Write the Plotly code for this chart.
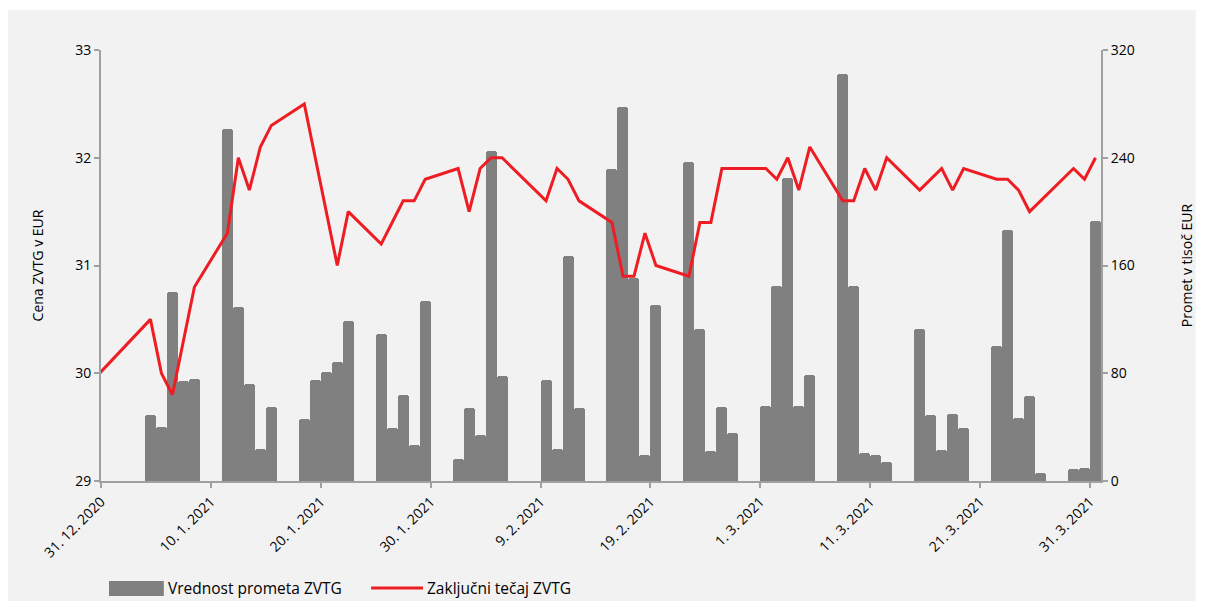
import plotly.graph_objects as go

# ---- data ----
bar_dates = [
    "2021-01-04", "2021-01-05", "2021-01-06", "2021-01-07", "2021-01-08",
    "2021-01-11", "2021-01-12", "2021-01-13", "2021-01-14", "2021-01-15",
    "2021-01-18", "2021-01-19", "2021-01-20", "2021-01-21", "2021-01-22",
    "2021-01-25", "2021-01-26", "2021-01-27", "2021-01-28", "2021-01-29",
    "2021-02-01", "2021-02-02", "2021-02-03", "2021-02-04", "2021-02-05",
    "2021-02-09", "2021-02-10", "2021-02-11", "2021-02-12",
    "2021-02-15", "2021-02-16", "2021-02-17", "2021-02-18", "2021-02-19",
    "2021-02-22", "2021-02-23", "2021-02-24", "2021-02-25", "2021-02-26",
    "2021-03-01", "2021-03-02", "2021-03-03", "2021-03-04", "2021-03-05",
    "2021-03-08", "2021-03-09", "2021-03-10", "2021-03-11", "2021-03-12",
    "2021-03-15", "2021-03-16", "2021-03-17", "2021-03-18", "2021-03-19",
    "2021-03-22", "2021-03-23", "2021-03-24", "2021-03-25", "2021-03-26",
    "2021-03-29", "2021-03-30", "2021-03-31",
]
turnover = [
    49, 40, 140, 74, 76,
    261, 129, 72, 24, 55,
    46, 75, 81, 88, 119,
    109, 39, 64, 27, 134,
    16, 54, 34, 245, 78,
    75, 24, 167, 54,
    232, 278, 151, 19, 131,
    237, 113, 22, 55, 36,
    56, 145, 225, 56, 79,
    302, 145, 21, 19, 14,
    113, 49, 23, 50, 39,
    100, 186, 47, 63, 6,
    9, 10, 193,
]

price_dates = [
    "2020-12-30", "2021-01-04", "2021-01-05", "2021-01-06", "2021-01-08",
    "2021-01-11", "2021-01-12", "2021-01-13", "2021-01-14", "2021-01-15",
    "2021-01-18", "2021-01-21", "2021-01-22", "2021-01-25", "2021-01-27",
    "2021-01-28", "2021-01-29", "2021-02-01", "2021-02-02", "2021-02-03",
    "2021-02-04", "2021-02-05", "2021-02-09", "2021-02-10", "2021-02-11",
    "2021-02-12", "2021-02-15", "2021-02-16", "2021-02-17", "2021-02-18",
    "2021-02-19", "2021-02-22", "2021-02-23", "2021-02-24", "2021-02-25",
    "2021-03-01", "2021-03-02", "2021-03-03", "2021-03-04", "2021-03-05",
    "2021-03-08", "2021-03-09", "2021-03-10", "2021-03-11", "2021-03-12",
    "2021-03-15", "2021-03-17", "2021-03-18", "2021-03-19", "2021-03-22",
    "2021-03-23", "2021-03-24", "2021-03-25", "2021-03-29", "2021-03-30",
    "2021-03-31",
]
price = [
    29.96, 30.50, 30.00, 29.80, 30.80,
    31.30, 32.00, 31.70, 32.10, 32.30,
    32.50, 31.00, 31.50, 31.20, 31.60,
    31.60, 31.80, 31.90, 31.50, 31.90,
    32.00, 32.00, 31.60, 31.90, 31.80,
    31.60, 31.40, 30.90, 30.90, 31.30,
    31.00, 30.90, 31.40, 31.40, 31.90,
    31.90, 31.80, 32.00, 31.70, 32.10,
    31.60, 31.60, 31.90, 31.70, 32.00,
    31.70, 31.90, 31.70, 31.90, 31.80,
    31.80, 31.70, 31.50, 31.90, 31.80,
    32.00,
]

bar_name = "Vrednost prometa ZVTG"
line_name = "Zaključni tečaj ZVTG"
left_title = "Cena ZVTG v EUR"
right_title = "Promet v tisoč EUR"
x_range = ["2020-12-31", "2021-04-01"]
left_range = [29, 33]
right_range = [0, 320]

DAY = 86400000
FONT = "Open Sans"
BAR_COLOR = "#808080"
LINE_COLOR = "#ee1d23"
AXIS_COLOR = "#a0a0a0"

fig = go.Figure()
fig.add_trace(go.Bar(
    x=bar_dates, y=turnover, name=bar_name,
    xperiod=DAY, xperiodalignment="middle", width=DAY,
    marker=dict(color=BAR_COLOR, line=dict(width=0), cornerradius=3),
    yaxis="y", showlegend=False,
))
fig.add_trace(go.Scatter(
    x=price_dates, y=price, name=line_name, mode="lines",
    xperiod=DAY, xperiodalignment="middle",
    line=dict(color=LINE_COLOR, width=3),
    yaxis="y2", showlegend=False,
))

# page has an 8px body margin, so the figure starts at screen (8, 8)
OFF = 8
W, H = 1205 - OFF, 601 - OFF
L, R, T, B = 101 - OFF, 101, 50 - OFF, 120
pw, ph = W - L - R, H - T - B


def px(x):  # screen px -> paper
    return (x - OFF - L) / pw


def py(y):
    return (H - B - (y - OFF)) / ph


shapes = [
    dict(type="rect", xref="paper", yref="paper", x0=px(1199), x1=px(1230),
         y0=py(640), y1=py(-20), fillcolor="white", line=dict(width=0), layer="below"),
    dict(type="rect", xref="paper", yref="paper", x0=px(-20), x1=px(1230),
         y0=py(10), y1=py(-20), fillcolor="white", line=dict(width=0), layer="below"),
    # legend swatches
    dict(type="rect", xref="paper", yref="paper", x0=px(109), x1=px(164),
         y0=py(596), y1=py(581), fillcolor=BAR_COLOR, line=dict(width=0)),
    dict(type="line", xref="paper", yref="paper", x0=px(372), x1=px(424),
         y0=py(588), y1=py(588), line=dict(color=LINE_COLOR, width=3)),
]
annotations = [
    dict(text=bar_name, xref="paper", yref="paper", x=px(166), y=py(588),
         xanchor="left", yanchor="middle", showarrow=False,
         font=dict(family=FONT, size=15.5, color="#000")),
    dict(text=line_name, xref="paper", yref="paper", x=px(426), y=py(588),
         xanchor="left", yanchor="middle", showarrow=False,
         font=dict(family=FONT, size=15.5, color="#000")),
]

axis_common = dict(showline=True, linecolor=AXIS_COLOR, linewidth=2,
                   ticks="outside", ticklen=5, tickcolor=AXIS_COLOR, tickwidth=1.5,
                   showgrid=False, zeroline=False,
                   tickfont=dict(family=FONT, size=14, color="#000"))

fig.update_layout(
    width=W, height=H,
    margin=dict(l=L, r=R, t=T, b=B),
    paper_bgcolor="#f2f2f2", plot_bgcolor="#f2f2f2",
    bargap=0, showlegend=False,
    shapes=shapes, annotations=annotations,
    xaxis=dict(type="date", range=x_range, tick0="2020-12-31", dtick=10 * DAY,
               tickformat="%-d. %-m. %Y", tickangle=-45,
               **{**axis_common, "tickfont": dict(family=FONT, size=14, color="#000")}),
    yaxis=dict(side="right", range=right_range, dtick=80,
               title=dict(text=right_title, font=dict(family=FONT, size=14, color="#000"),
                          standoff=48),
               **axis_common),
    yaxis2=dict(side="left", overlaying="y", range=left_range, dtick=1,
                title=dict(text=left_title, font=dict(family=FONT, size=14, color="#000"),
                           standoff=28),
                **axis_common),
)

fig.write_html("out.html")
